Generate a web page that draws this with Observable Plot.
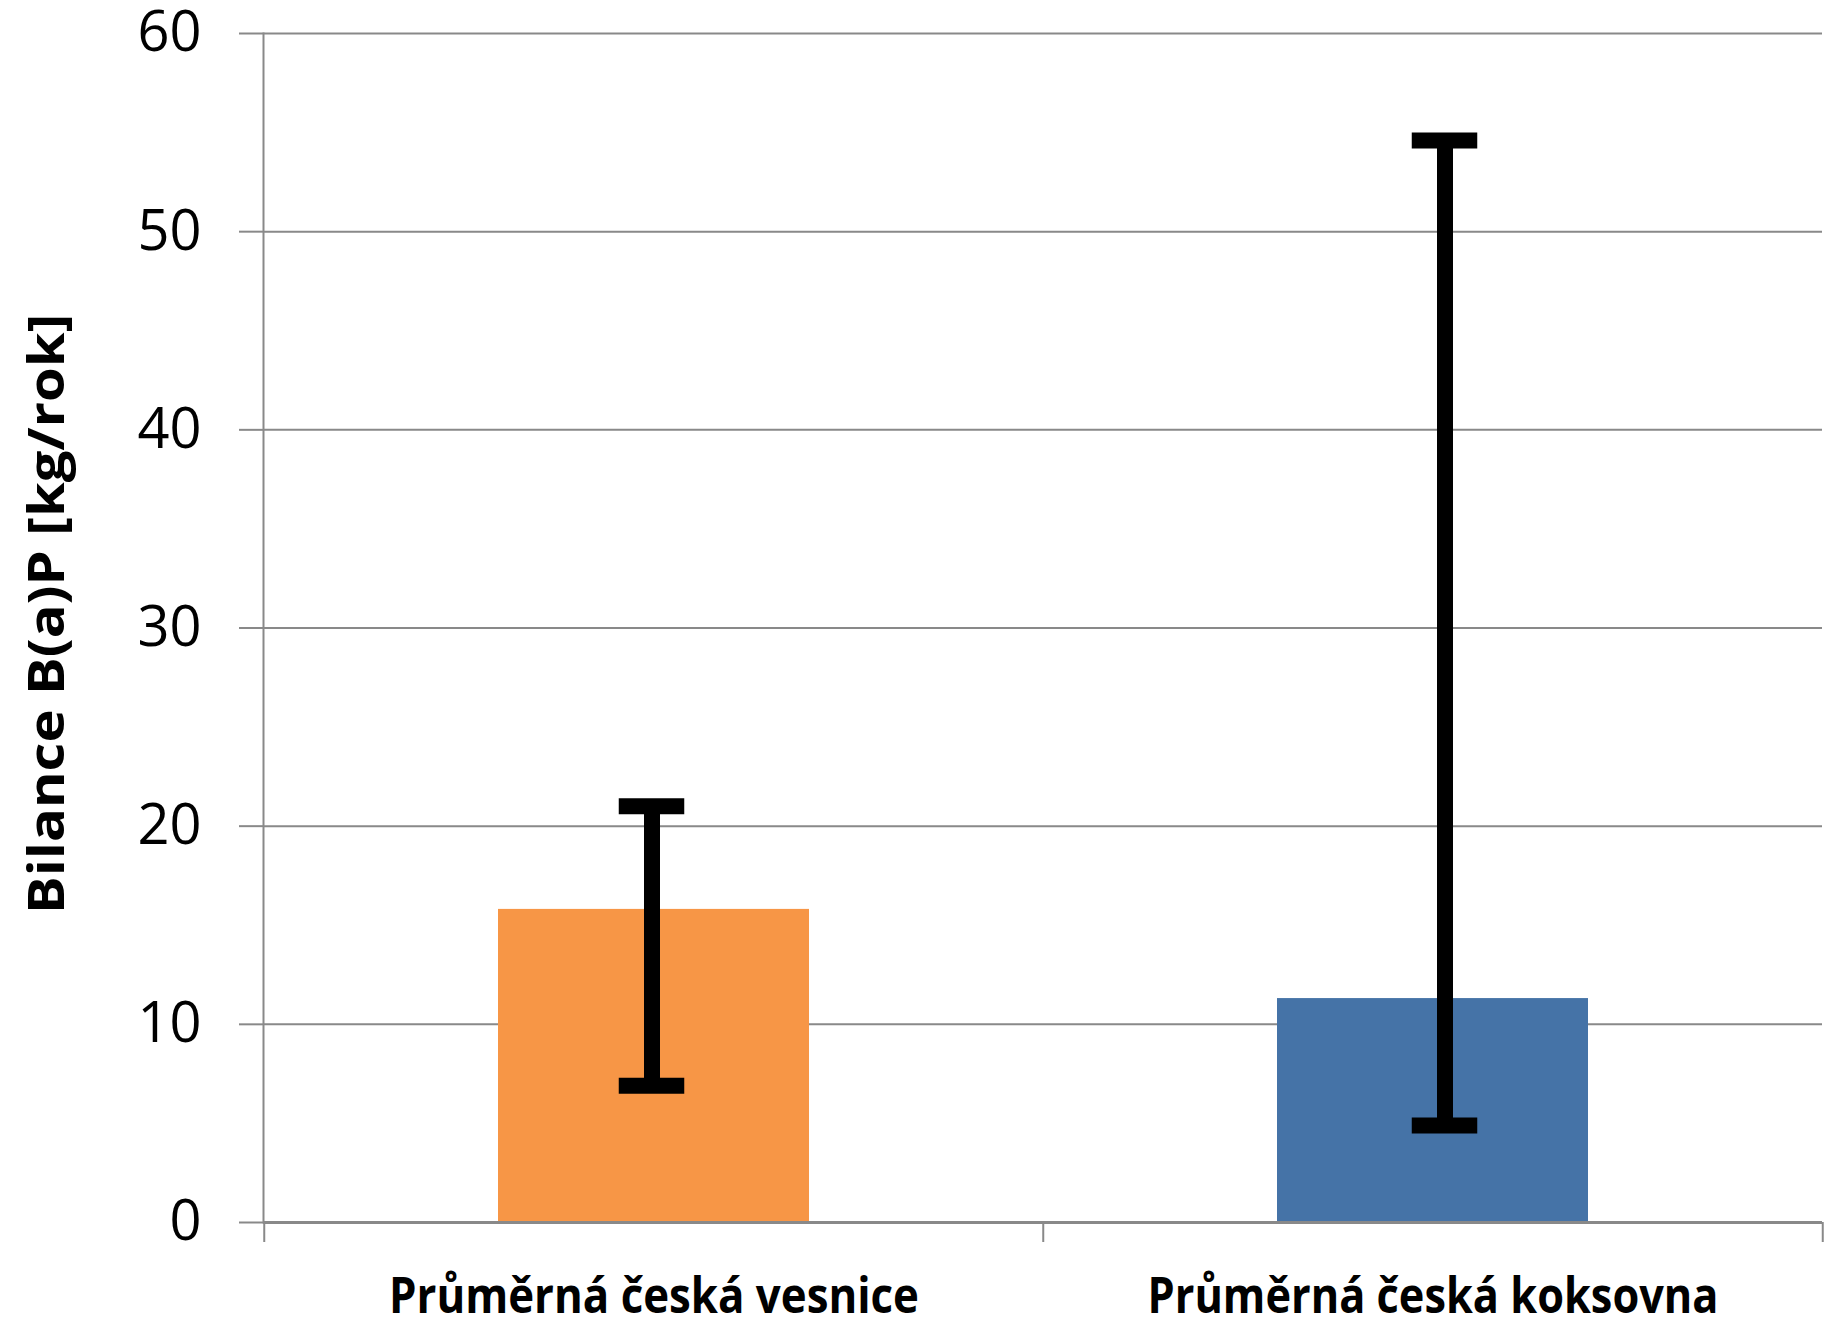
<!DOCTYPE html>
<html>
<head>
<meta charset="utf-8">
<script src="https://cdn.jsdelivr.net/npm/d3@7"></script>
<script src="https://cdn.jsdelivr.net/npm/@observablehq/plot@0.6"></script>
<style>
  html, body { margin: 0; padding: 0; background: #fff; }
  #chart svg { display: block; }
</style>
</head>
<body>
<div id="chart"></div>
<script>
const categories = ["Průměrná česká vesnice", "Průměrná česká koksovna"];
const values = [15.8, 11.3];
const errLow = [6.9, 4.9];
const errHigh = [21.0, 54.6];
const barColors = ["#F79646", "#4573A7"];
const yTicks = [0, 10, 20, 30, 40, 50, 60];
const yLabel = "Bilance B(a)P [kg/rok]";

const data = categories.map((c, i) => ({cat: c, value: values[i], low: errLow[i], high: errHigh[i], color: barColors[i]}));

const W = 1825, H = 1318, mL = 263, mR = 3, mT = 33, mB = 96;
const band = (W - mL - mR) / categories.length;
const grid = "#898989";
const capInset = (band - 66) / 2;

function errorMarks(rows, dx) {
  return [
    Plot.ruleX(rows, {x: "cat", y1: "low", y2: "high", stroke: "#000", strokeWidth: 16, dx}),
    Plot.tickY(rows, {x: "cat", y: "high", stroke: "#000", strokeWidth: 16, insetLeft: capInset, insetRight: capInset, dx}),
    Plot.tickY(rows, {x: "cat", y: "low", stroke: "#000", strokeWidth: 16, insetLeft: capInset, insetRight: capInset, dx})
  ];
}

const chart = Plot.plot({
  width: W, height: H,
  marginLeft: mL, marginRight: mR, marginTop: mT, marginBottom: mB,
  style: {fontFamily: "'Open Sans', sans-serif", background: "#fff", color: "#000"},
  x: {domain: categories, padding: 0},
  y: {domain: [0, 60]},
  marks: [
    Plot.gridY(yTicks, {stroke: grid, strokeOpacity: 1, strokeWidth: 2}),
    Plot.axisY({ticks: yTicks, tickSize: 24, tickPadding: 38, fontSize: 56, stroke: grid, strokeWidth: 2, fill: "#000", label: null}),
    Plot.frame({anchor: "left", stroke: grid, strokeWidth: 2}),
    Plot.axisX({tickSize: 20, tickFormat: () => "", dx: -band / 2, stroke: grid, strokeWidth: 2, label: null}),
    Plot.axisX({ticks: [categories[categories.length - 1]], tickSize: 20, tickFormat: () => "", dx: band / 2, stroke: grid, strokeWidth: 2, label: null}),
    Plot.axisX({tickSize: 0, tickPadding: 55, fontSize: 50, fontWeight: "bold", fill: "#000", label: null}),
    Plot.barY(data, {x: "cat", y: "value", fill: "color", insetLeft: 234, insetRight: 234}),
    Plot.ruleY([0], {stroke: grid, strokeWidth: 3}),
    ...errorMarks(data.slice(0, 1), -2),
    ...errorMarks(data.slice(1), 12),
    Plot.text([yLabel], {frameAnchor: "left", rotate: -90, dx: -216, dy: -14, fontSize: 50, fontWeight: "bold", fill: "#000", textAnchor: "middle"})
  ]
});

document.getElementById("chart").appendChild(chart);

// condense text like the original narrow font
const lens = new Map([[categories[0], 530], [categories[1], 571], [yLabel, 600]]);
d3.select(chart).selectAll("text").each(function() {
  const t = this.textContent;
  if (lens.has(t)) d3.select(this).attr("textLength", lens.get(t)).attr("lengthAdjust", "spacingAndGlyphs");
});
</script>
</body>
</html>
